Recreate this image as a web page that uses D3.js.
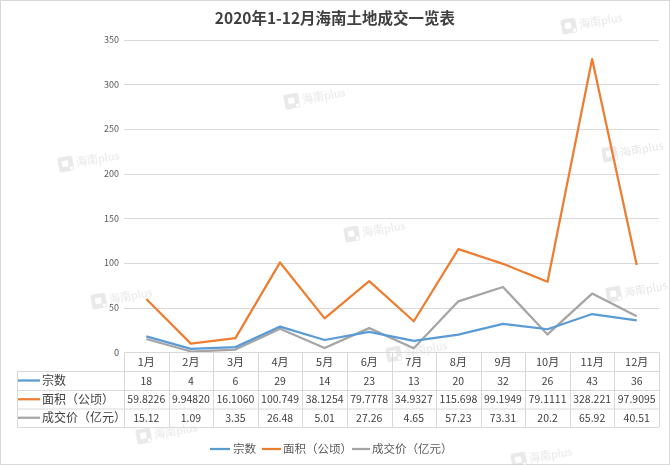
<!DOCTYPE html>
<html><head><meta charset="utf-8">
<script src="https://cdn.jsdelivr.net/npm/d3@7"></script>
<style>html,body{margin:0;padding:0;background:#fff}svg{display:block}</style>
</head><body>
<script>
const title = "2020年1-12月海南土地成交一览表";
const months = ["1月","2月","3月","4月","5月","6月","7月","8月","9月","10月","11月","12月"];
const seriesNames = ["宗数","面积（公顷）","成交价（亿元）"];
const countVals = [18,4,6,29,14,23,13,20,32,26,43,36];
const areaVals = [59.8226,9.94820,16.1060,100.749,38.1254,79.7778,34.9327,115.698,99.1949,79.1111,328.221,97.9095];
const areaLabels = ["59.8226","9.94820","16.1060","100.749","38.1254","79.7778","34.9327","115.698","99.1949","79.1111","328.221","97.9095"];
const priceVals = [15.12,1.09,3.35,26.48,5.01,27.26,4.65,57.23,73.31,20.2,65.92,40.51];
const priceLabels = ["15.12","1.09","3.35","26.48","5.01","27.26","4.65","57.23","73.31","20.2","65.92","40.51"];
const yTicks = [0,50,100,150,200,250,300,350];
const colors = ["#5B9BD5","#ED7D31","#A5A5A5"];

const W = 670, H = 465;
const font = "'Noto Sans CJK SC','Microsoft YaHei',sans-serif";
const svg = d3.select("body").append("svg").attr("width", W).attr("height", H)
  .style("font-family", font);

svg.append("rect").attr("x",0.5).attr("y",0.5).attr("width",W-1).attr("height",H-1)
  .attr("fill","#fff").attr("stroke","#d9d9d9");

// watermarks
const wm = [[595,22],[318,97],[92,160],[636,150],[378,230],[125,297],[640,290],[420,350],[170,432],[545,456]];
const wmg = svg.append("g").attr("opacity",0.45);
wm.forEach(([x,y]) => {
  const g = wmg.append("g").attr("transform",`translate(${x},${y}) rotate(-10)`);
  g.append("rect").attr("x",-34).attr("y",-8).attr("width",15).attr("height",15).attr("rx",2).attr("fill","#cfcfcf");
  g.append("rect").attr("x",-30).attr("y",-4).attr("width",6).attr("height",6).attr("fill","#fff");
  g.append("rect").attr("x",-23).attr("y",3).attr("width",3).attr("height",3).attr("fill","#fff");
  g.append("text").attr("x",-16).attr("y",4).attr("font-size",11).attr("fill","#c8c8c8").text("海南plus");
});

svg.append("text").attr("x",335).attr("y",24).attr("text-anchor","middle")
  .attr("font-size",15.5).attr("font-weight","bold").attr("fill","#404040").text(title);

const x0 = 124, x1 = 659;
const x = d3.scaleBand().domain(months).range([x0,x1]);
const y = d3.scaleLinear().domain([0,350]).range([352.5,39.6]);

// grid
svg.append("g").selectAll("line").data(yTicks.filter(d=>d>0)).join("line")
  .attr("x1",x0).attr("x2",x1).attr("y1",d=>Math.round(y(d))+0.5).attr("y2",d=>Math.round(y(d))+0.5)
  .attr("stroke","#d9d9d9").attr("stroke-width",1);

const yAxis = svg.append("g").attr("transform",`translate(${x0},0)`)
  .call(d3.axisLeft(y).tickValues(yTicks).tickSize(0).tickPadding(5));
yAxis.select(".domain").remove();
yAxis.selectAll("text").attr("font-size",9).attr("fill","#595959").style("font-family",font);

// lines
const series = [countVals, areaVals, priceVals];
const line = d3.line().x((d,i)=>x(months[i])+x.bandwidth()/2).y(d=>y(d));
[2,0,1].forEach(k => {
  svg.append("path").datum(series[k]).attr("d",line).attr("fill","none")
    .attr("stroke",colors[k]).attr("stroke-width",2.25).attr("stroke-linejoin","round");
});

// table
const rowY = [352, 371, 390, 408.5, 427];
const tl = 17;
const tg = svg.append("g");
const bc = "#d9d9d9";
tg.append("line").attr("x1",x0).attr("x2",x1).attr("y1",rowY[0]+0.5).attr("y2",rowY[0]+0.5).attr("stroke",bc);
rowY.slice(1).forEach(r => tg.append("line").attr("x1",tl).attr("x2",x1).attr("y1",r+0.5).attr("y2",r+0.5).attr("stroke",bc));
tg.append("line").attr("x1",tl+0.5).attr("x2",tl+0.5).attr("y1",rowY[1]).attr("y2",rowY[4]).attr("stroke",bc);
months.forEach(m => tg.append("line").attr("x1",Math.round(x(m))+0.5).attr("x2",Math.round(x(m))+0.5).attr("y1",rowY[0]).attr("y2",rowY[4]).attr("stroke",bc));
tg.append("line").attr("x1",x1+0.5).attr("x2",x1+0.5).attr("y1",rowY[0]).attr("y2",rowY[4]).attr("stroke",bc);

months.forEach(m => tg.append("text").attr("x",x(m)+x.bandwidth()/2).attr("y",(rowY[0]+rowY[1])/2+4)
  .attr("text-anchor","middle").attr("font-size",11).attr("fill","#404040").text(m));
const rowsText = [countVals.map(String), areaLabels, priceLabels];
rowsText.forEach((vals,k) => {
  const cy = (rowY[k+1]+rowY[k+2])/2 + 4;
  tg.append("line").attr("x1",tl+1).attr("x2",40).attr("y1",cy-4).attr("y2",cy-4)
    .attr("stroke",colors[k]).attr("stroke-width",2.25);
  tg.append("text").attr("x",42).attr("y",cy+0.5).attr("font-size",12).attr("fill","#404040").text(seriesNames[k]);
  vals.forEach((v,i) => tg.append("text").attr("x",x(months[i])+x.bandwidth()/2).attr("y",cy)
    .attr("text-anchor","middle").attr("font-size",10.5).attr("fill","#404040").text(v));
});

// legend
const legend = svg.append("g");
const lx = [[210,230,233],[262,281,283],[352,370,372]];
seriesNames.forEach((n,k) => {
  legend.append("line").attr("x1",lx[k][0]).attr("x2",lx[k][1]).attr("y1",449).attr("y2",449)
    .attr("stroke",colors[k]).attr("stroke-width",2.25);
  legend.append("text").attr("x",lx[k][2]).attr("y",453).attr("font-size",11.5).attr("fill","#595959").text(n);
});
</script>
</body></html>
